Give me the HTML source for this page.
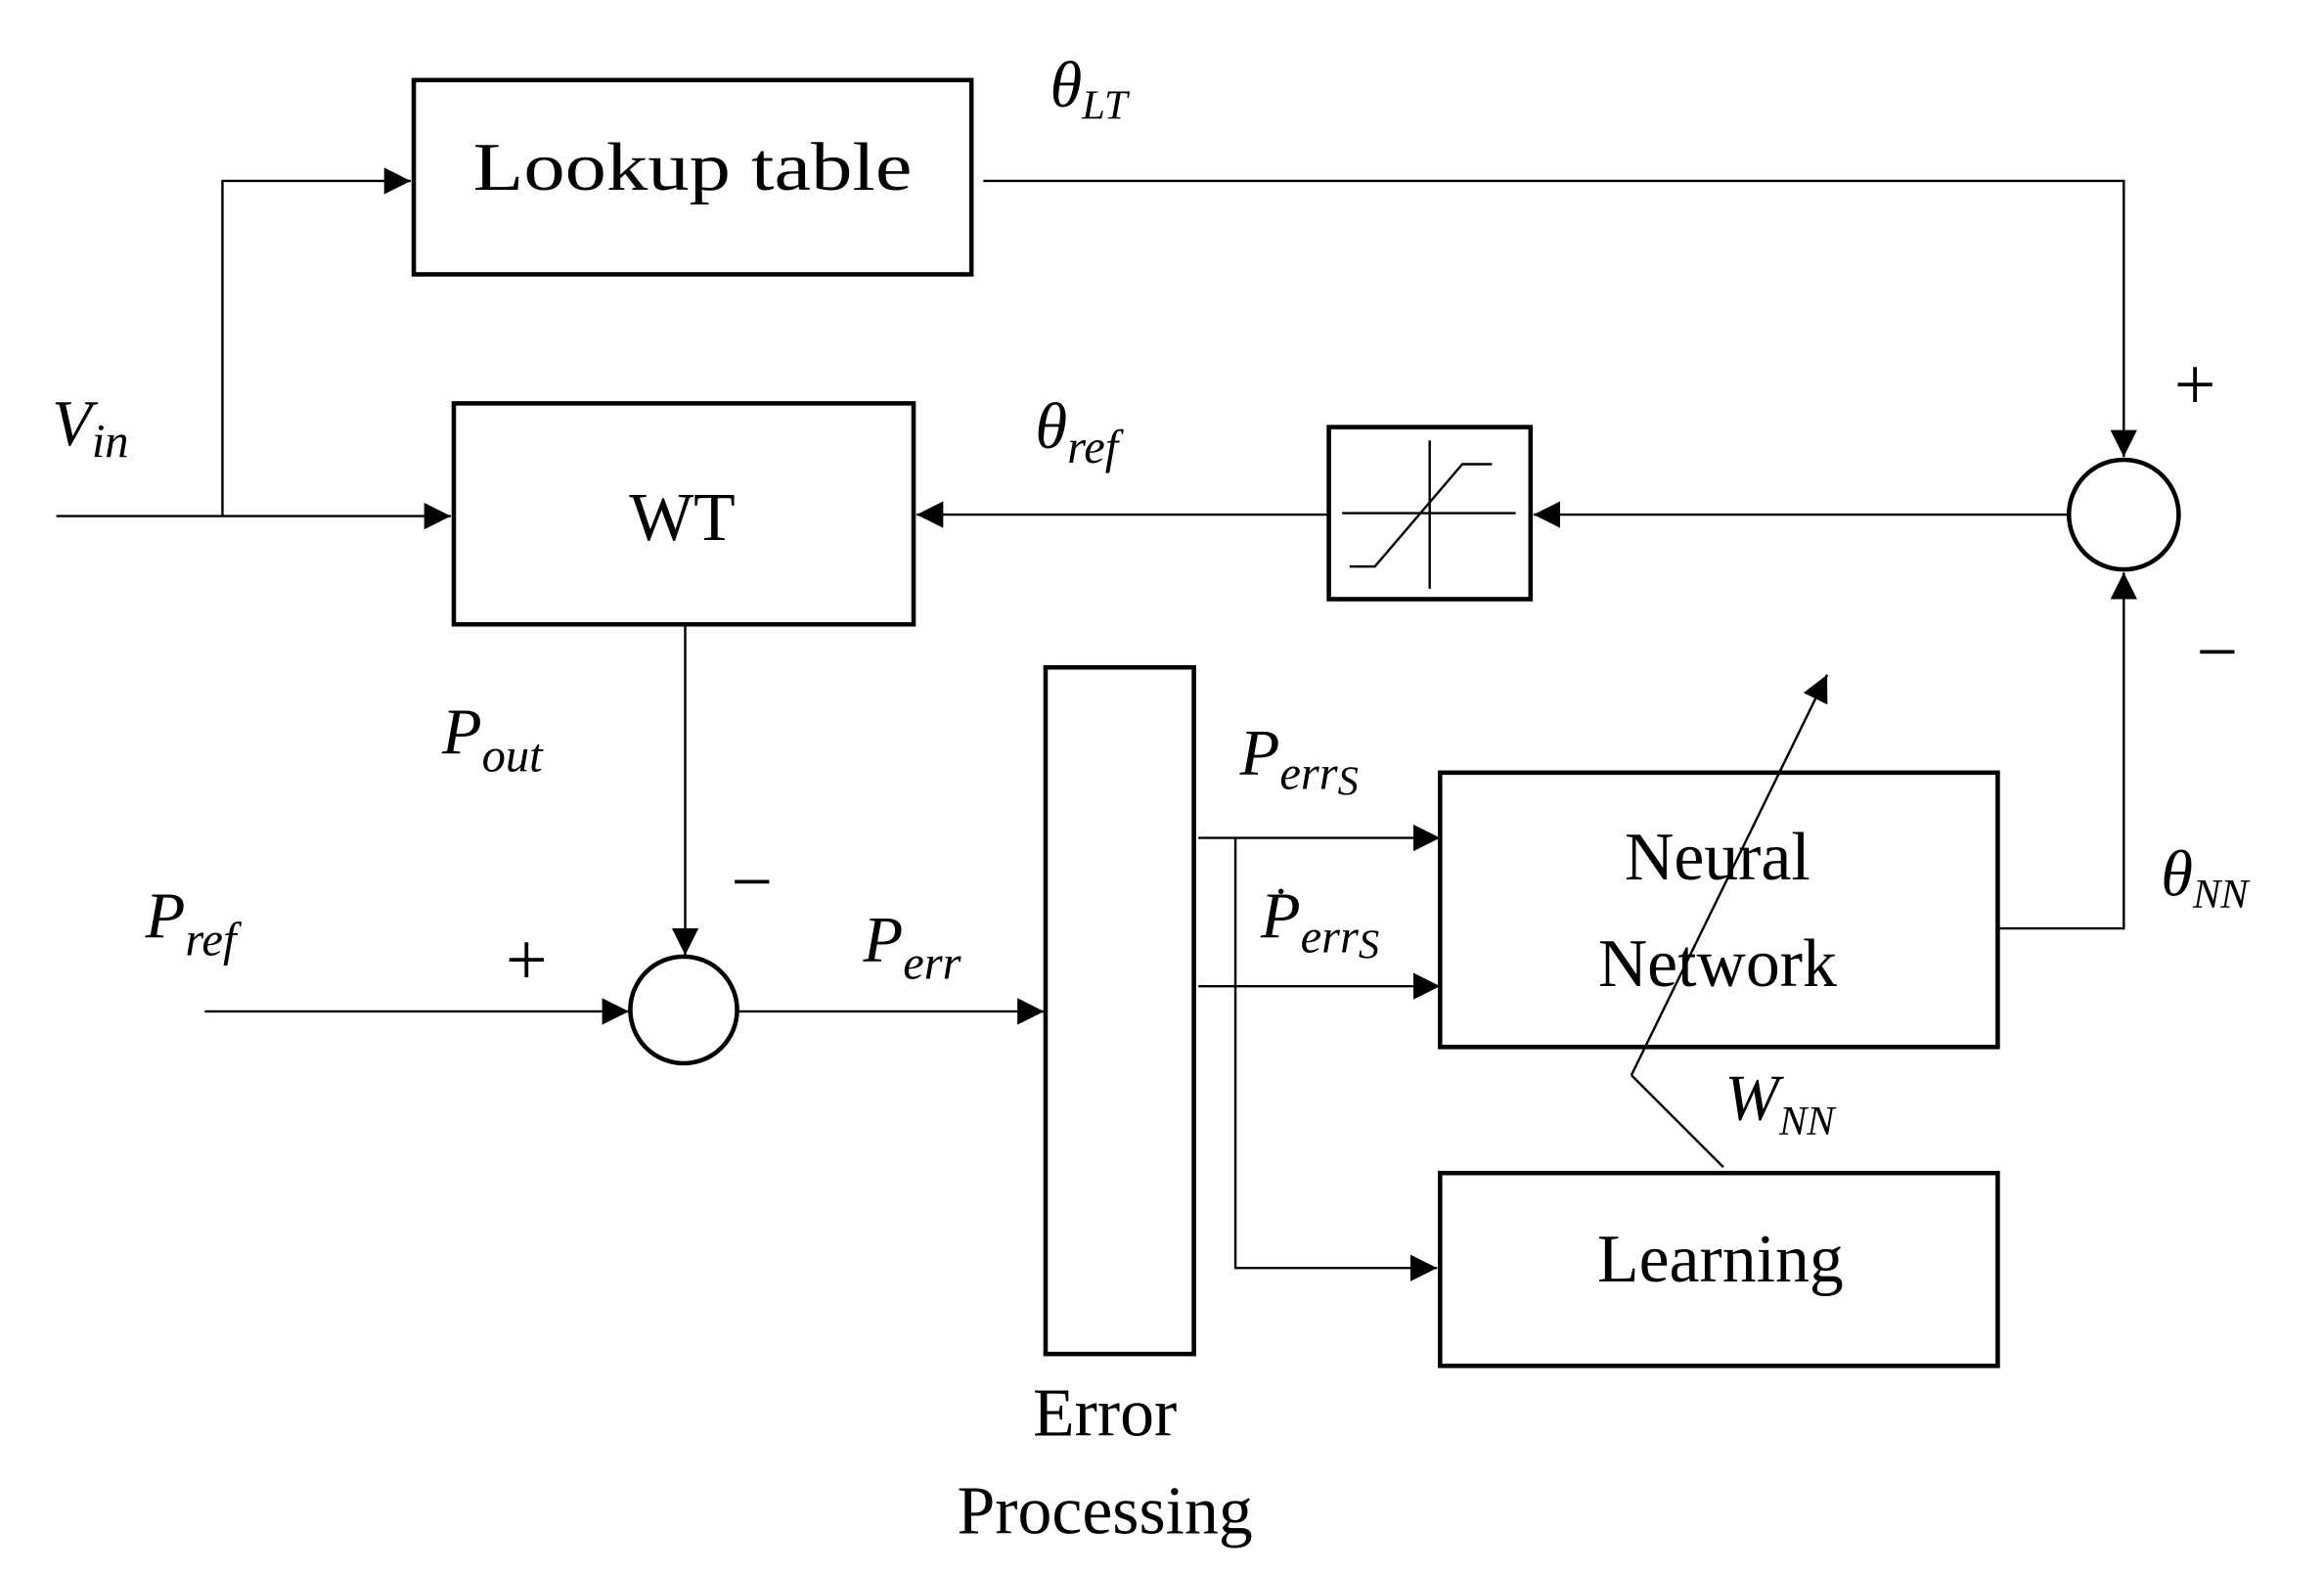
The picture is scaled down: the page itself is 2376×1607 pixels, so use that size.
<!DOCTYPE html>
<html><head><meta charset="utf-8"><style>html,body{margin:0;padding:0;background:#fff}svg{display:block}</style></head>
<body>
<svg width="2376" height="1607" viewBox="0 0 1567 1060" preserveAspectRatio="none" xmlns="http://www.w3.org/2000/svg">
<defs>
<marker id="a" viewBox="0 0 10 10" refX="10" refY="5" markerWidth="18" markerHeight="18" markerUnits="userSpaceOnUse" orient="auto"><path d="M0,0L10,5L0,10z" fill="#000"/></marker>
</defs>
<g fill="none" stroke="#000">
<rect x="279" y="54" width="376" height="131" stroke-width="3"/>
<rect x="306" y="272" width="310" height="149" stroke-width="3"/>
<rect x="896" y="288" width="136" height="116" stroke-width="3"/>
<rect x="705" y="450" width="100" height="463" stroke-width="3"/>
<rect x="971" y="521" width="376" height="185" stroke-width="3"/>
<rect x="971" y="791" width="376" height="130" stroke-width="3"/>
<ellipse cx="1432" cy="347" rx="37" ry="37" stroke-width="3"/>
<ellipse cx="461" cy="681" rx="36" ry="36" stroke-width="3"/>
<g stroke-width="1.6">
<line x1="964" y1="297" x2="964" y2="397"/>
<line x1="905" y1="346" x2="1022" y2="346"/>
<polyline points="910,382 927,382 986,313 1006,313"/>
<line x1="38" y1="348" x2="304" y2="348" marker-end="url(#a)"/>
<polyline points="150,348 150,122 277,122" marker-end="url(#a)"/>
<polyline points="663,122 1432,122 1432,308" marker-end="url(#a)"/>
<line x1="1395" y1="347" x2="1034" y2="347" marker-end="url(#a)"/>
<line x1="896" y1="347" x2="618" y2="347" marker-end="url(#a)"/>
<line x1="462" y1="421" x2="462" y2="644" marker-end="url(#a)"/>
<line x1="138" y1="682" x2="424" y2="682" marker-end="url(#a)"/>
<line x1="497" y1="682" x2="704" y2="682" marker-end="url(#a)"/>
<line x1="808" y1="565" x2="971" y2="565" marker-end="url(#a)"/>
<line x1="808" y1="665" x2="971" y2="665" marker-end="url(#a)"/>
<polyline points="833,565 833,855 969,855" marker-end="url(#a)"/>
<polyline points="1347,626 1432,626 1432,386" marker-end="url(#a)"/>
<line x1="1100" y1="725" x2="1232" y2="455" marker-end="url(#a)"/>
<line x1="1100" y1="725" x2="1162" y2="787"/>
</g>
</g>
<g font-family="'Liberation Serif',serif" fill="#000" font-size="46">
<text x="467" y="128" text-anchor="middle" textLength="296" lengthAdjust="spacingAndGlyphs">Lookup table</text>
<text x="460" y="364" text-anchor="middle">WT</text>
<text x="1158" y="593" text-anchor="middle">Neural</text>
<text x="1158" y="665" text-anchor="middle">Network</text>
<text x="1160" y="864" text-anchor="middle">Learning</text>
<text x="745" y="968" text-anchor="middle">Error</text>
<text x="745" y="1034" text-anchor="middle">Processing</text>
<text x="1480" y="276" text-anchor="middle" font-size="50">+</text>
<text x="355" y="664" text-anchor="middle" font-size="50">+</text>
<text x="1495" y="456" text-anchor="middle" font-size="50">−</text>
<text x="507" y="611" text-anchor="middle" font-size="50">−</text>
</g>
<g font-family="'Liberation Serif',serif" font-style="italic" fill="#000" font-size="44">
<text x="35" y="300">V<tspan font-size="32" dy="8">in</tspan></text>
<text x="708" y="72">θ<tspan font-size="28" dy="8">LT</tspan></text>
<text x="698" y="302">θ<tspan font-size="32" dy="10">ref</tspan></text>
<text x="298" y="508">P<tspan font-size="32" dy="12">out</tspan></text>
<text x="98" y="632">P<tspan font-size="32" dy="12">ref</tspan></text>
<text x="582" y="648">P<tspan font-size="32" dy="12">err</tspan></text>
<text x="836" y="522">P<tspan font-size="32" dy="10">err</tspan><tspan font-size="28" dy="4">S</tspan></text>
<text x="850" y="632">P<tspan font-size="32" dy="10">err</tspan><tspan font-size="28" dy="4">S</tspan></text>
<text x="858" y="622" font-style="normal" font-size="34">˙</text>
<text x="1457" y="604">θ<tspan font-size="28" dy="8">NN</tspan></text>
<text x="1163" y="755">W<tspan font-size="28" dy="10">NN</tspan></text>
</g>
</svg>
</body></html>
